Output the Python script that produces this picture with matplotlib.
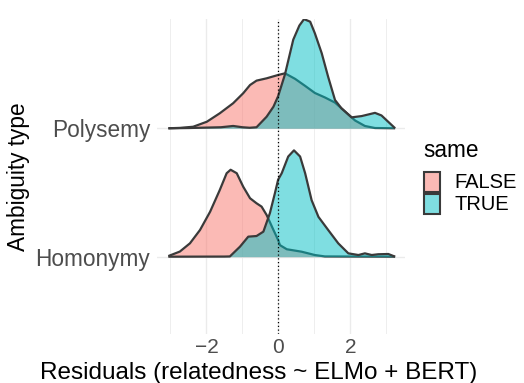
import matplotlib.pyplot as plt
from matplotlib.patches import Rectangle

# ridge rows (Homonymy at 1, Polysemy at 2)
categories = ["Homonymy", "Polysemy"]
groups = ["FALSE", "TRUE"]

# Polysemy densities (height in ridge units)
poly_false_x = [-3.06, -2.74, -2.37, -1.99, -1.63, -1.26, -0.98, -0.79, -0.61, -0.33, -0.01, 0.18,
                0.46, 0.74, 1.01, 1.29, 1.57, 1.85, 2.13, 2.40, 2.68, 3.24]
poly_false_h = [0.0, 0.003, 0.012, 0.051, 0.117, 0.195, 0.273, 0.337, 0.371, 0.389, 0.415, 0.428,
                0.385, 0.33, 0.275, 0.24, 0.20, 0.13, 0.06, 0.018, 0.002, 0.0]

poly_true_x = [-3.06, -2.5, -1.6, -1.26, -1.0, -0.8, -0.61, -0.33, -0.14, -0.01, 0.18, 0.41, 0.58,
               0.71, 0.88, 1.01, 1.20, 1.38, 1.57, 1.75, 2.03, 2.31, 2.68, 2.86, 3.05, 3.24]
poly_true_h = [0.0, 0.002, 0.008, 0.018, 0.008, 0.004, 0.008, 0.09, 0.168, 0.25, 0.42, 0.69, 0.80,
               0.85, 0.83, 0.74, 0.585, 0.40, 0.22, 0.155, 0.085, 0.095, 0.12, 0.10, 0.05, 0.0]

# Homonymy densities
homo_false_x = [-3.06, -2.74, -2.46, -2.18, -1.90, -1.63, -1.44, -1.33, -1.16, -0.98, -0.79, -0.61,
                -0.47, -0.33, -0.14, -0.01, 0.04, 0.23, 0.64, 1.01, 1.29, 3.24]
homo_false_h = [0.005, 0.04, 0.104, 0.208, 0.35, 0.52, 0.65, 0.677, 0.65, 0.545, 0.455, 0.416,
                0.39, 0.325, 0.208, 0.13, 0.09, 0.058, 0.039, 0.013, 0.002, 0.0]

homo_true_x = [-3.06, -1.5, -1.35, -1.07, -0.84, -0.61, -0.42, -0.24, -0.10, -0.01, 0.09, 0.27,
               0.43, 0.60, 0.74, 0.92, 1.11, 1.38, 1.66, 1.94, 2.22, 2.40, 2.59, 2.77, 3.05, 3.24]
homo_true_h = [0.0, 0.001, 0.002, 0.078, 0.156, 0.161, 0.195, 0.338, 0.494, 0.60, 0.65, 0.78,
               0.828, 0.78, 0.65, 0.44, 0.31, 0.208, 0.104, 0.026, 0.013, 0.026, 0.013, 0.019, 0.021, 0.0]

fill_cols = {"FALSE": "#F8766D", "TRUE": "#00BFC4"}
line_col = "#3a3a3a"
text_col = "#4D4D4D"

W, H = 524, 383
fig = plt.figure(figsize=(W / 100, H / 100), dpi=100)
plt.rcParams["font.family"] = ["Liberation Sans", "DejaVu Sans"]

ax = fig.add_axes([157 / W, (H - 334) / H, (405 - 157) / W, (334 - 19) / H])
ax.set_xlim(-3.375, 3.514)
ax.set_ylim(0.398, 2.851)

ax.set_xticks([-2, 0, 2])
ax.set_xticklabels(["\u22122", "0", "2"])
ax.set_xticks([-3, -1, 1, 3], minor=True)
ax.set_yticks([1, 2])
ax.set_yticklabels(categories)
ax.tick_params(which="both", length=0, labelcolor=text_col)
ax.tick_params(axis="x", pad=3, labelsize=15)
ax.tick_params(axis="y", pad=5, labelsize=16.3)
ax.grid(which="major", color="#EBEBEB", lw=1.0)
ax.grid(which="minor", axis="x", color="#EBEBEB", lw=0.6)
ax.set_axisbelow(True)
for s in ax.spines.values():
    s.set_visible(False)

ridges = [
    (1, homo_false_x, homo_false_h, "FALSE"),
    (1, homo_true_x, homo_true_h, "TRUE"),
    (2, poly_false_x, poly_false_h, "FALSE"),
    (2, poly_true_x, poly_true_h, "TRUE"),
]
# draw the upper row first so lower ridges sit on top
for z, (base, xs, hs, g) in enumerate(sorted(ridges, key=lambda r: -r[0])):
    top = [base + h for h in hs]
    ax.fill_between(xs, base, top, color=fill_cols[g], alpha=0.5, lw=0, zorder=2 + z)
    ax.plot(xs, top, color=line_col, lw=1.6, zorder=2 + z, solid_capstyle="butt")

ax.axvline(0, color="black", lw=0.9, linestyle=(0, (1, 2)), zorder=10)

# axis titles
fig.text(258.5 / W, (H - 379) / H, "Residuals (relatedness ~ ELMo + BERT)",
         ha="center", va="baseline", fontsize=17.5)
fig.text(19 / W, (H - 177) / H, "Ambiguity type", rotation=90,
         ha="center", va="center", fontsize=16.3)

# legend
fig.text(423 / W, (H - 157) / H, "same", ha="left", va="baseline", fontsize=16.3)
for i, g in enumerate(groups):
    y0 = 172 + i * 22
    fig.add_artist(Rectangle((424 / W, (H - y0 - 20) / H), 16 / W, 20 / H,
                             transform=fig.transFigure, facecolor=fill_cols[g], alpha=0.5, lw=0))
    fig.add_artist(Rectangle((424 / W, (H - y0 - 20) / H), 16 / W, 20 / H,
                             transform=fig.transFigure, facecolor="none",
                             edgecolor=line_col, lw=1.5))
    fig.text(454 / W, (H - y0 - 10) / H, g, ha="left", va="center", fontsize=14.5)

fig.savefig("out.png", dpi=100)
